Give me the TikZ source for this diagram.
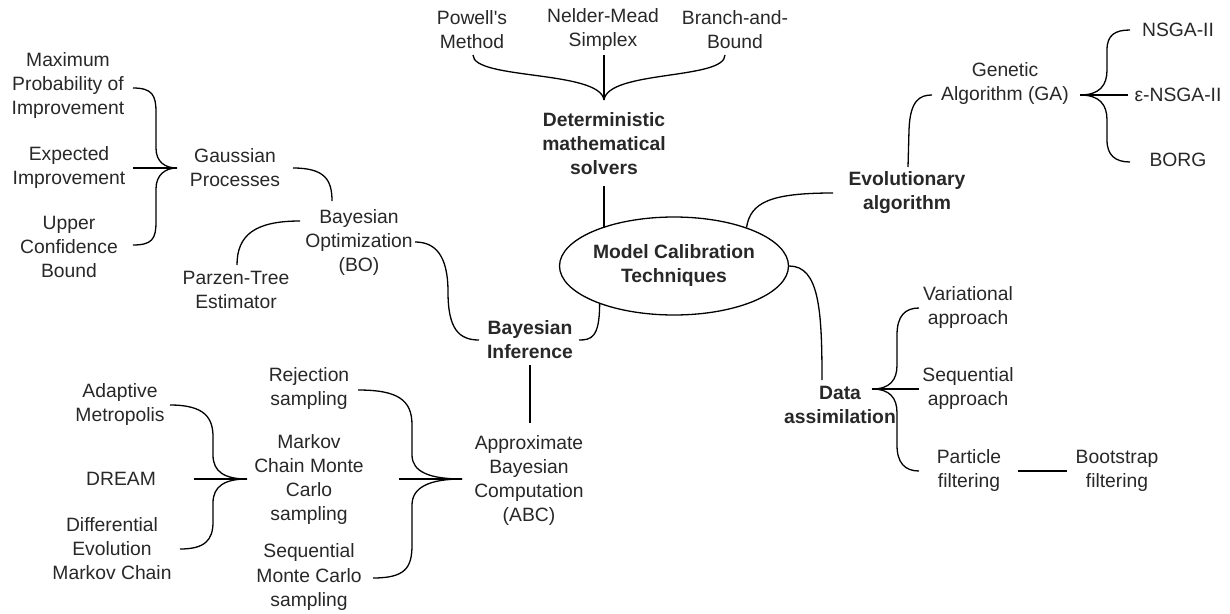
\documentclass[tikz,border=0pt]{standalone}
\usepackage{fontspec}
\setmainfont{Liberation Sans}
\usetikzlibrary{calc,shapes.geometric}
\definecolor{textc}{RGB}{40,40,40}
\begin{document}
\begin{tikzpicture}[x=1pt,y=-1pt,
  txt/.style={align=center,inner sep=2pt,text=textc,font=\fontsize{19.3}{24}\selectfont},
  bt/.style={txt,font=\fontsize{19.3}{24}\selectfont\bfseries},
  con/.style={line width=1.3pt,draw=black}]
\fill[white] (0,0) rectangle (1230,613);
\useasboundingbox (0,0) rectangle (1230,613);

% nodes
\node[txt] (pow) at (472,30) {Powell\textquotesingle s\\Method};
\node[txt] (nm) at (603,30) {Nelder-Mead\\Simplex};
\node[txt] (bb) at (735,30) {Branch-and-\\Bound};
\node[bt] (det) at (604,144) {Deterministic\\mathematical\\solvers};
\node[draw,ellipse,line width=1.3pt,minimum width=198pt,minimum height=98pt,inner sep=0pt,align=center,text=textc,font=\fontsize{19.3}{24}\selectfont\bfseries] (mct) at (674,266) {Model Calibration\\Techniques};
\node[bt] (bi) at (530,340) {Bayesian\\Inference};
\node[txt] (bo) at (359,243) {Bayesian\\Optimization\\(BO)};
\node[txt] (gp) at (235,168) {Gaussian\\Processes};
\node[txt] (pte) at (236,290) {Parzen-Tree\\Estimator};
\node[txt] (mpi) at (68,86) {Maximum\\Probability of\\Improvement};
\node[txt] (ei) at (69,168) {Expected\\Improvement};
\node[txt] (ucb) at (69,247) {Upper\\Confidence\\Bound};
\node[txt] (abc) at (529,480) {Approximate\\Bayesian\\Computation\\(ABC)};
\node[txt] (rs) at (309,389) {Rejection\\sampling};
\node[txt] (mcmc) at (309,480) {Markov\\Chain Monte\\Carlo\\sampling};
\node[txt] (smc) at (309,577) {Sequential\\Monte Carlo\\sampling};
\node[txt] (am) at (120,405) {Adaptive\\Metropolis};
\node[txt] (dream) at (121,479) {DREAM};
\node[txt] (demc) at (112,549) {Differential\\Evolution\\Markov Chain};
\node[bt] (ea) at (907,193) {Evolutionary\\algorithm};
\node[txt] (ga) at (1005,83.5) {Genetic\\Algorithm (GA)};
\node[txt] (nsga) at (1178,30) {NSGA-II};
\node[txt] (ensga) at (1178,95) {ε-NSGA-II};
\node[txt] (borg) at (1178,160) {BORG};
\node[bt] (da) at (840,405) {Data\\assimilation};
\node[txt] (va) at (968,308) {Variational\\approach};
\node[txt] (sa) at (968,389) {Sequential\\approach};
\node[txt] (pf) at (969,471) {Particle\\filtering};
\node[txt] (bf) at (1117,471) {Bootstrap\\filtering};

% top brace
\coordinate (dtip) at ($(det)+(0,-44)$);
\draw[con] ($(pow)+(1,25)$) .. controls +(0,25) and +(-4,-30) .. (dtip);
\draw[con] ($(nm)+(1,25)$) -- (dtip);
\draw[con] ($(bb)+(-10,25)$) .. controls +(0,25) and +(4,-30) .. (dtip);
\draw[con] ($(det)+(0,42)$) -- (mct.153 -| det);

% ellipse connectors
\draw[con] (mct.207) .. controls +(0,34) and +(12,0) .. ($(bi)+(49,0)$);
\draw[con] (mct.28) .. controls +(4,-25) and +(-63,0) .. ($(ea)+(-74,0)$);
\draw[con] (mct.east) .. controls +(30,0) and +(0,-70) .. ($(da)+(-18,-25)$);

% Bayesian branch
\draw[con] ($(bi)+(-51,0)$) .. controls +(-20,0) and +(0,37) .. (448,292) .. controls +(0,-37) and +(20,0) .. ($(bo)+(56,-1)$);
\draw[con] ($(gp)+(58,0)$) .. controls +(32,0) and +(0,-21) .. ($(bo)+(-27,-42)$);
\draw[con] ($(bo)+(-59,-22)$) .. controls +(-45,0) and +(0,-30) .. ($(pte)+(1,-25)$);

% left brace (GP)
\coordinate (gtip) at ($(gp)+(-58,0)$);
\draw[con] ($(mpi)+(65,2)$) .. controls +(19,0) and +(0,-17) .. (156,112) -- (156,148) .. controls +(0,14) and +(-12,0) .. (gtip);
\draw[con] ($(ei)+(64,0)$) -- (gtip);
\draw[con] ($(ucb)+(64,-2)$) .. controls +(19,0) and +(0,17) .. (156,222) -- (156,189) .. controls +(0,-14) and +(-12,0) .. (gtip);

% ABC
\draw[con] ($(bi)+(0,25)$) -- ($(abc)+(1,-57)$);
\coordinate (atip) at ($(abc)+(-67,-1)$);
\draw[con] ($(rs)+(49,1)$) .. controls +(40,0) and +(0,-25) .. (412,425) -- (412,455) .. controls +(0,17) and +(-32,0) .. (atip);
\draw[con] ($(mcmc)+(90,-1)$) -- (atip);
\draw[con] ($(smc)+(64,1)$) .. controls +(32,0) and +(0,23) .. (412,545) -- (412,505) .. controls +(0,-18) and +(-32,0) .. (atip);

% MCMC
\coordinate (mtip) at ($(mcmc)+(-62,-1)$);
\draw[con] ($(am)+(50,0)$) .. controls +(35,0) and +(0,-19) .. (213,437) -- (213,455) .. controls +(0,17) and +(-22,0) .. (mtip);
\draw[con] ($(dream)+(73,0)$) -- (mtip);
\draw[con] ($(demc)+(68,0)$) .. controls +(25,0) and +(0,18) .. (213,522) -- (213,503) .. controls +(0,-17) and +(-22,0) .. (mtip);

% Evolutionary
\draw[con] ($(ea)+(1,-26)$) -- (909,130) .. controls +(1,-30) and +(-12,0) .. ($(ga)+(-73,11.5)$);
\coordinate (gatip) at ($(ga)+(75,11.5)$);
\draw[con] (gatip) .. controls +(20,0) and +(0,15) .. (1107,70) -- (1107,50) .. controls +(0,-15) and +(-15,0) .. ($(nsga)+(-48,0)$);
\draw[con] (gatip) -- ($(ensga)+(-50,0)$);
\draw[con] (gatip) .. controls +(20,0) and +(0,-15) .. (1107,120) -- (1107,140) .. controls +(0,15) and +(-15,0) .. ($(borg)+(-48,2)$);

% Data assimilation
\coordinate (datip) at ($(da)+(32,-16)$);
\draw[con] (datip) .. controls +(18,0) and +(0,15) .. (897,365) -- (897,335) .. controls +(0,-19) and +(-14,0) .. ($(va)+(-49,0)$);
\draw[con] (datip) -- ($(sa)+(-49,0)$);
\draw[con] (datip) .. controls +(18,0) and +(0,-15) .. (897,413) -- (897,445) .. controls +(0,18) and +(-14,0) .. ($(pf)+(-50,0)$);
\draw[con] ($(pf)+(49,0)$) -- ($(bf)+(-50,0)$);
\end{tikzpicture}
\end{document}
